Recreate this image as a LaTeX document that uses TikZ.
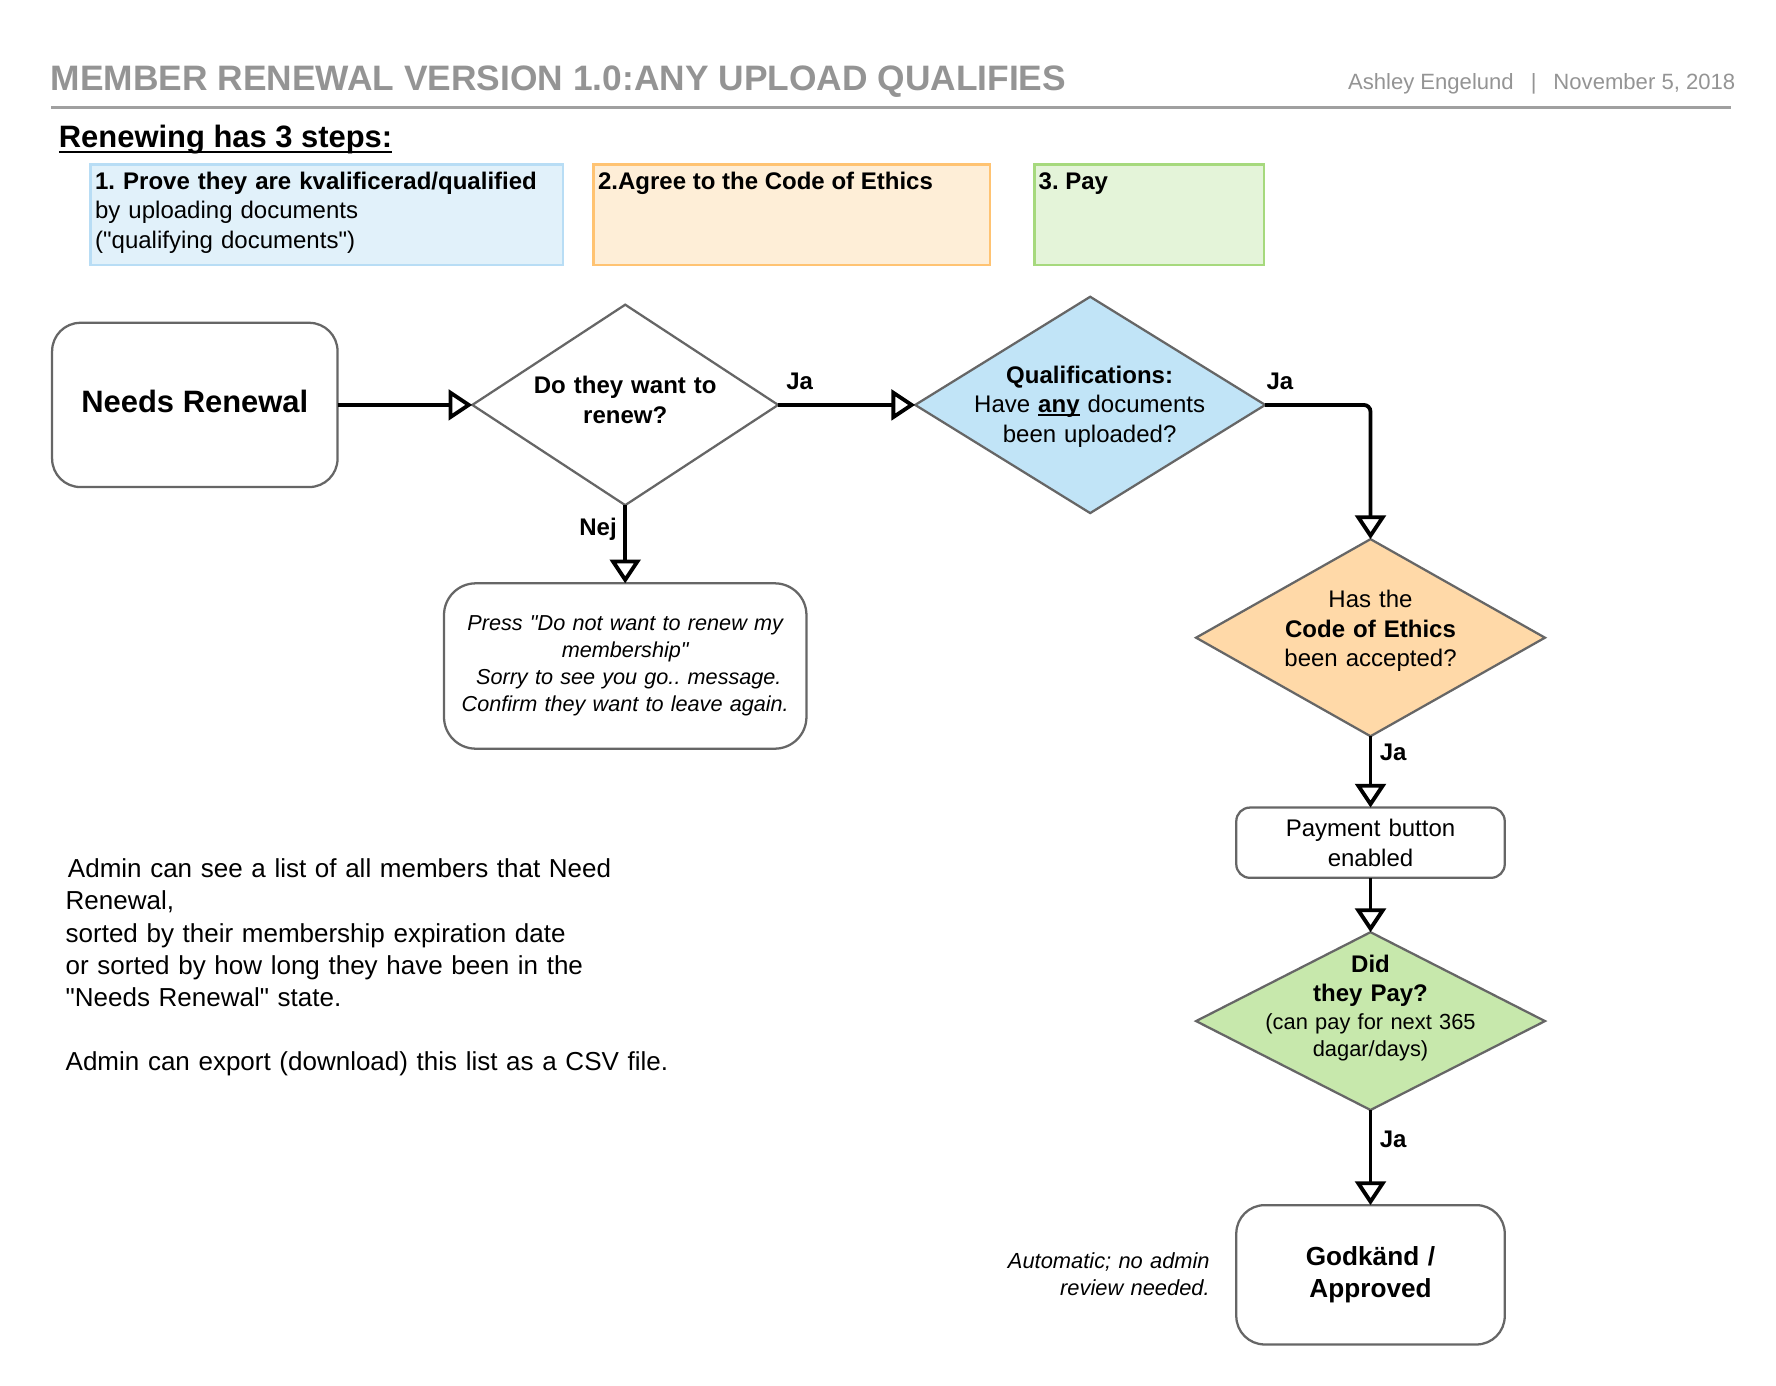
\documentclass[tikz,border=0pt]{standalone}
\usepackage{fontspec}
\setmainfont{Liberation Sans}[Ligatures=TeXOff]
\usetikzlibrary{shapes.geometric,arrows.meta}
\definecolor{tgray}{HTML}{949494}
\definecolor{rgray}{HTML}{A0A0A0}
\definecolor{bgray}{HTML}{666666}
\definecolor{bAfill}{HTML}{E1F1FA}
\definecolor{bAdraw}{HTML}{B8DDF5}
\definecolor{bBfill}{HTML}{FEEED7}
\definecolor{bBdraw}{HTML}{FFC372}
\definecolor{bCfill}{HTML}{E4F4D9}
\definecolor{bCdraw}{HTML}{A6D97D}
\definecolor{qblue}{HTML}{C1E4F7}
\definecolor{corange}{HTML}{FFD9A8}
\definecolor{dgreen}{HTML}{C7E8AC}
\newcommand\myfs[2]{\fontsize{#1pt}{#2pt}\selectfont}
\newcommand\myul[1]{\setbox0\hbox{#1}\rlap{\rule[-3pt]{\wd0}{1.6pt}}\box0}
\begin{document}
\frenchspacing
\begin{tikzpicture}[x=1pt,y=-1pt,
  every node/.style={inner sep=0pt, outer sep=0pt},
  shp/.style={draw=bgray, line width=2pt},
  rbox/.style={shp, rectangle, rounded corners=#1, fill=white},
  dia/.style={shp, diamond},
  stepbox/.style={rectangle, line width=2.5pt, anchor=north west, minimum height=89pt},
  conn/.style={line width=3.4pt, -{Triangle[length=21pt, width=27pt, fill=white]}},
  lbl/.style={font=\myfs{21.2}{26}\bfseries},
  body/.style={font=\myfs{21.2}{26}},
]
\useasboundingbox (0,0) rectangle (1568,1222.8);

% header
\node[font=\myfs{31.2}{36}\bfseries, text=tgray, anchor=base west] (title) at (45,80) {MEMBER RENEWAL VERSION 1.0:ANY UPLOAD QUALIFIES};
\node[font=\myfs{19.5}{24}, text=tgray, anchor=base east] (auth) at (1532,79) {Ashley Engelund\hspace{15pt}|\hspace{15pt}November 5, 2018};
\draw[rgray, line width=2pt] (45,95) -- (1528,95);

\node[font=\myfs{27.3}{32}\bfseries, anchor=base west] (steps) at (52,130) {Renewing has 3 steps:};
\draw[line width=2pt] ([yshift=-4pt]steps.base west) -- ([yshift=-4pt]steps.base east);

% step boxes
\node[stepbox, draw=bAdraw, fill=bAfill, minimum width=417pt] (s1) at (80,145) {};
\node[stepbox, draw=bBdraw, fill=bBfill, minimum width=350pt] (s2) at (524,145) {};
\node[stepbox, draw=bCdraw, fill=bCfill, minimum width=203pt] (s3) at (913,145) {};
\node[body, text width=420pt, align=left, anchor=base west] (s1t) at (84,167) {\textbf{1. Prove they are kvalificerad/qualified}\\by uploading documents\\("qualifying documents")};
\node[body, anchor=base west] (s2t) at (528,167) {\textbf{2.Agree to the Code of Ethics}};
\node[body, anchor=base west] (s3t) at (917,167) {\textbf{3. Pay}};

% flow shapes
\node[rbox=25pt, minimum width=252pt, minimum height=145pt, font=\myfs{27.3}{32}\bfseries] (nr) at (172,357.5) {\raisebox{6pt}{Needs Renewal}};

\node[dia, fill=white, minimum width=270pt, minimum height=177pt] (d1) at (552,357.5) {};
\node[font=\myfs{21.2}{26}\bfseries, text width=220pt, align=center] (d1t) at (552,353) {Do they want to\\renew?};

\node[dia, fill=qblue, minimum width=309pt, minimum height=191pt] (q) at (962.5,357.5) {};
\node[body, text width=300pt, align=center] (qt) at (962,359) {\textbf{Qualifications:}\\Have \textbf{\myul{any}} documents\\been uploaded?};

\node[rbox=28pt, minimum width=320pt, minimum height=146pt, font=\myfs{19.1}{23.7}\itshape, text width=310pt, align=center] (leave) at (552,588) {Press "Do not want to renew my\\membership"\\ \ Sorry to see you go.. message.\\Confirm they want to leave again.};

\node[dia, fill=corange, minimum width=308pt, minimum height=174pt] (coe) at (1210,563) {};
\node[body, text width=300pt, align=center] (coet) at (1210,557) {Has the\\\textbf{Code of Ethics}\\been accepted?};

\node[rbox=12pt, minimum width=237pt, minimum height=62pt, body, text width=230pt, align=center] (pay) at (1210,744) {Payment button\\enabled};

\node[dia, fill=dgreen, minimum width=308pt, minimum height=157pt] (did) at (1210,901.5) {};
\node[font=\myfs{21.2}{26}\bfseries, text width=300pt, align=center] (didt) at (1210,866) {Did\\they Pay?};
\node[font=\myfs{19.3}{24}, text width=300pt, align=center] (didn) at (1210,915.5) {(can pay for next 365\\dagar/days)};

\node[rbox=25pt, minimum width=237pt, minimum height=123pt, font=\myfs{23.1}{28}\bfseries, text width=230pt, align=center] (ok) at (1210,1125.5) {Godkänd /\\Approved};

\node[font=\myfs{19.3}{24}\itshape, text width=220pt, align=right, anchor=base east] (auto) at (1068,1120) {Automatic; no admin\\review needed.};

\node[font=\myfs{22.95}{28.4}, text width=620pt, align=left, anchor=base west] (admin) at (58,775) {\hspace*{2pt}Admin can see a list of all members that Need\\Renewal,\\sorted by their membership expiration date\\or sorted by how long they have been in the\\"Needs Renewal" state.\\[28.4pt]Admin can export (download) this list as a CSV file.};

% connectors
\draw[conn] (nr.east) -- (d1.west);
\draw[conn] (d1.east) -- (q.west);
\draw[conn, rounded corners=6pt] (q.east) -| (coe.north);
\draw[conn] (d1.south) -- (leave.north);
\draw[conn] (coe.south) -- (pay.north);
\draw[conn] (pay.south) -- (did.north);
\draw[conn] (did.south) -- (ok.north);

% labels
\node[lbl] (ja1) at (706,337) {Ja};
\node[lbl] (ja2) at (1130,337) {Ja};
\node[lbl] (ja3) at (1230,664) {Ja};
\node[lbl] (ja4) at (1230,1006) {Ja};
\node[lbl] (nej) at (528,467) {Nej};
\end{tikzpicture}
\end{document}
